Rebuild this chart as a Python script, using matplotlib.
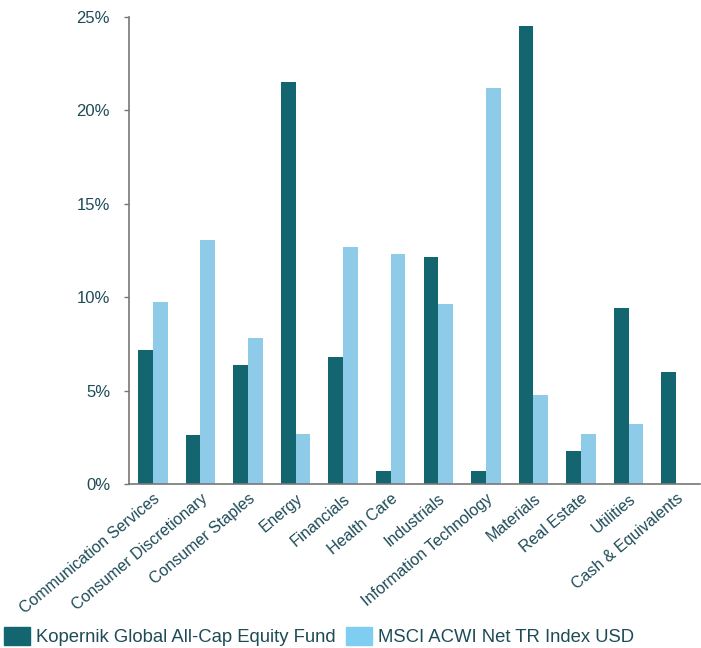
import matplotlib
matplotlib.use("Agg")
import matplotlib.pyplot as plt
import numpy as np
from matplotlib.patches import Patch

plt.rcParams['font.family'] = ['Liberation Sans', 'DejaVu Sans']

categories = ["Communication Services", "Consumer Discretionary", "Consumer Staples",
              "Energy", "Financials", "Health Care", "Industrials",
              "Information Technology", "Materials", "Real Estate", "Utilities",
              "Cash & Equivalents"]
fund = [7.2, 2.6, 6.35, 21.5, 6.8, 0.7, 12.15, 0.7, 24.5, 1.75, 9.45, 6.0]
index = [9.75, 13.05, 7.8, 2.7, 12.7, 12.3, 9.65, 21.2, 4.75, 2.7, 3.2, 0.0]
series_names = ["Kopernik Global All-Cap Equity Fund", "MSCI ACWI Net TR Index USD"]
yticks = [0, 5, 10, 15, 20, 25]

dark = "#13666f"
light = "#8ecbe9"
txt = "#1d4b57"

fig = plt.figure(figsize=(7.01, 6.48), dpi=100)
ax = fig.add_axes([0.184, 0.253, 0.8146, 0.7208])

x = np.arange(len(categories))
w = 0.31
ax.bar(x - w/2, fund, width=w, color=dark, label=series_names[0])
ax.bar(x + w/2, [v if v > 0 else np.nan for v in index], width=w, color=light, label=series_names[1])

ax.set_xlim(-0.5, len(categories) - 0.5)
ax.set_ylim(0, 25)
ax.set_yticks(yticks)
ax.set_yticklabels([f"{t}%" for t in yticks], color=txt, fontsize=12)
ax.set_xticks(x)
ax.set_xticklabels(categories, rotation=40, ha='right', rotation_mode='anchor',
                   color=txt, fontsize=11.5)
ax.tick_params(axis='x', length=0, pad=5)
ax.tick_params(axis='y', length=3.6, width=1, color="#777777", pad=10)
for s in ['top', 'right']:
    ax.spines[s].set_visible(False)
for s in ['left', 'bottom']:
    ax.spines[s].set_color("#777777")
    ax.spines[s].set_linewidth(1.2)

handles = [Patch(color=dark), Patch(color="#80cdf2")]
fig.legend(handles, series_names, loc='lower left', bbox_to_anchor=(0.0, -0.003),
           ncol=2, frameon=False, fontsize=13.3, handlelength=1.4, handleheight=1.1,
           handletextpad=0.33, columnspacing=0.6, labelcolor=txt, borderaxespad=0.0,
           borderpad=0.2)

fig.savefig("out.png", dpi=100)
